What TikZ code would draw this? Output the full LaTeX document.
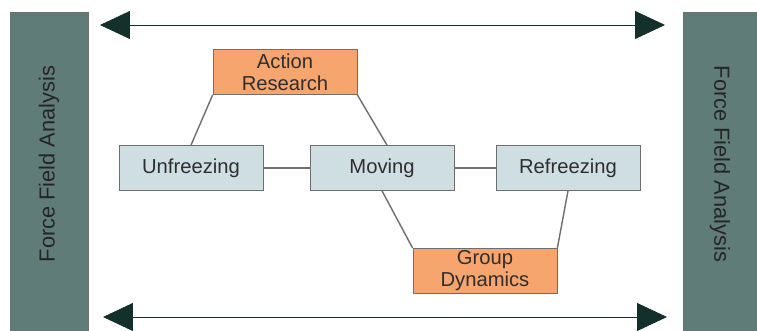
\documentclass[tikz,border=0pt]{standalone}
\usepackage{fontspec}
\setmainfont{Liberation Sans}
\usetikzlibrary{arrows.meta,positioning}
\definecolor{barfill}{HTML}{5F7C78}
\definecolor{stagefill}{HTML}{CFDEE2}
\definecolor{toolfill}{HTML}{F7A56F}
\definecolor{arrowdark}{HTML}{13302A}
\definecolor{linkgray}{HTML}{6E6E6E}
\definecolor{labeltext}{HTML}{2E2E2E}

\begin{document}
\begin{tikzpicture}[x=0.02cm,y=-0.02cm,
	stage/.style={rectangle,draw=linkgray,fill=stagefill,text=labeltext,minimum width=2.88cm,minimum height=0.9cm,inner sep=0pt,font=\fontsize{11.5}{13}\selectfont},
	tool/.style={stage,fill=toolfill,align=center,font=\fontsize{11.5}{12.5}\selectfont},
	bar/.style={draw=linkgray,fill=barfill},
	link/.style={draw=linkgray,line width=0.8pt},
	span/.style={draw=arrowdark,line width=0.5pt,{Triangle[length=0.6cm,width=0.56cm]}-{Triangle[length=0.6cm,width=0.56cm]}}]
\useasboundingbox (0,0) rectangle (757,331);
% side bars
\fill[bar] (10,12) rectangle (88,340);
\fill[bar] (683,12) rectangle (770,340);
\node[rotate=90,text=labeltext!80!black,font=\fontsize{12.4}{14}\selectfont] (ffaL) at (49,164) {Force Field Analysis};
\node[rotate=-90,text=labeltext!80!black,font=\fontsize{12.4}{14}\selectfont] (ffaR) at (720,164) {Force Field Analysis};
% arrows
\coordinate (tl) at (100,25);
\coordinate (tr) at (665,25);
\coordinate (bl) at (103,317);
\coordinate (br) at (667,317);
\draw[span] (tl) -- (tr);
\draw[span] (bl) -- (br);
% stages
\node[stage] (unfreeze) at (191,168) {Unfreezing};
\node[stage] (moving) at (382,168) {Moving};
\node[stage] (refreeze) at (568,168) {Refreezing};
\node[tool] (action) at (285,72) {Action\\Research};
\node[tool] (group) at (485,271) {Group\\Dynamics};
% links
\draw[link] (unfreeze) -- (moving);
\draw[link] (moving) -- (refreeze);
\draw[link] (action.south west) -- (unfreeze.north);
\draw[link] (action.south east) -- ([xshift=0.1cm]moving.north);
\draw[link] (moving.south) -- (group.north west);
\draw[link] (refreeze.south) -- (group.north east);
\end{tikzpicture}
\end{document}
